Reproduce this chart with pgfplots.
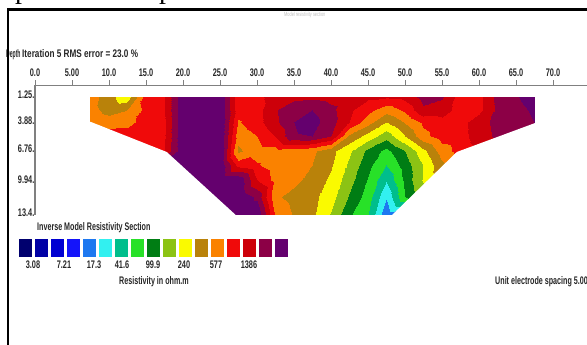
\documentclass[border=0pt]{standalone}
\usepackage{pgfplots}
\pgfplotsset{compat=1.18}
\usepackage{fontspec}
\setmainfont{Liberation Sans}[FakeStretch=0.65]
\newfontfamily\itfont{Liberation Sans}[FakeStretch=0.745]
\newfontfamily\narrowfont{Liberation Sans}[FakeStretch=0.46]
\newfontfamily\numfont{Liberation Sans}[FakeStretch=0.67]
\newfontfamily\serifp{Liberation Serif}
\newcommand\tf{\fontsize{11}{12}\selectfont\bfseries}
\definecolor{L1}{RGB}{0,0,110}
\definecolor{L2}{RGB}{0,0,165}
\definecolor{L3}{RGB}{0,0,210}
\definecolor{L4}{RGB}{20,20,250}
\definecolor{L5}{RGB}{30,120,240}
\definecolor{L6}{RGB}{50,240,240}
\definecolor{L7}{RGB}{0,190,140}
\definecolor{L8}{RGB}{40,225,40}
\definecolor{L9}{RGB}{0,125,20}
\definecolor{L10}{RGB}{140,195,20}
\definecolor{L11}{RGB}{250,250,0}
\definecolor{L12}{RGB}{185,130,10}
\definecolor{L13}{RGB}{250,130,0}
\definecolor{L14}{RGB}{240,10,10}
\definecolor{L15}{RGB}{205,0,10}
\definecolor{L16}{RGB}{140,0,70}
\definecolor{L17}{RGB}{100,0,110}
\begin{document}
\begin{tikzpicture}[x=1pt,y=1pt]
\useasboundingbox (0,0) rectangle (587,345);
\begin{axis}[
  scale only axis, width=562.4pt, height=129.7pt,
  at={(35pt,259.8pt)}, anchor=north west,
  xmin=0, xmax=76, ymin=-13.6, ymax=-0.241,
  axis x line*=top, axis y line*=left,
  axis line style={-, draw=black!50, line width=1.2pt},
  xtick={0,5,...,70},
  xticklabels={0.0,5.00,10.0,15.0,20.0,25.0,30.0,35.0,40.0,45.0,50.0,55.0,60.0,65.0,70.0},
  xtick align=outside, major tick length=5pt,
  xtick style={draw=black!50, line width=0.8pt},
  ytick={-1.25,-3.88,-6.76,-9.94,-13.4},
  yticklabels={1.25.,3.88.,6.76.,9.94.,13.4.},
  ytick style={draw=none},
  yticklabel style={anchor=east, inner sep=0pt, xshift=-0.5pt},
  xticklabel style={inner sep=0pt, yshift=3pt},
  ticklabel style={font=\numfont\tf, text=black!85},
  /pgf/number format/assume math mode=true,
  colormap={res}{rgb255(0cm)=(0,0,110) rgb255(1cm)=(0,0,165) rgb255(2cm)=(0,0,210)
    rgb255(3cm)=(20,20,250) rgb255(4cm)=(30,120,240) rgb255(5cm)=(50,240,240)
    rgb255(6cm)=(0,190,140) rgb255(7cm)=(40,225,40) rgb255(8cm)=(0,125,20)
    rgb255(9cm)=(140,195,20) rgb255(10cm)=(250,250,0) rgb255(11cm)=(185,130,10)
    rgb255(12cm)=(250,130,0) rgb255(13cm)=(240,10,10) rgb255(14cm)=(205,0,10)
    rgb255(15cm)=(140,0,70) rgb255(16cm)=(100,0,110) rgb255(17cm)=(100,0,110)},
  colormap access=piecewise constant,
  point meta min=0.660796, point meta max=8.110672,
]
\addplot[surf, shader=interp, mesh/cols=25, mesh/rows=9, point meta=explicit]
  table[x=x, y expr=-\thisrow{d}, meta expr={ln(\thisrow{r})}] {
x d r
7.5 1.5 484.3
10 1.5 273.9
12.5 1.5 184.7
15 1.5 718.3
17.5 1.5 855.9
20 1.5 3187
22.5 1.5 3187
25 1.5 3187
27.5 1.5 658.0
30 1.5 784.1
32.5 1.5 1113
35 1.5 1215
37.5 1.5 1270
40 1.5 1163
42.5 1.5 1066
45 1.5 976.2
47.5 1.5 934.4
50 1.5 1020
52.5 1.5 1652
55 1.5 1448
57.5 1.5 718.3
60 1.5 784.1
62.5 1.5 1581
65 1.5 2056
67.5 1.5 2795
7.5 2.75 443.6
10 2.75 312.4
12.5 2.75 372.3
15 2.75 658.0
17.5 2.75 855.9
20 2.75 3187
22.5 2.75 3187
25 2.75 3187
27.5 2.75 687.5
30 2.75 750.5
32.5 2.75 1327
35 2.75 1968
37.5 2.75 2149
40 2.75 1581
42.5 2.75 976.2
45 2.75 658.0
47.5 2.75 443.6
50 2.75 629.8
52.5 2.75 1270
55 2.75 1163
57.5 2.75 718.3
60 2.75 784.1
62.5 2.75 1513
65 2.75 1803
67.5 2.75 2345
7.5 4.0 528.6
10 4.0 463.5
12.5 4.0 505.9
15 4.0 687.5
17.5 4.0 819.2
20 4.0 3187
22.5 4.0 3187
25 4.0 3187
27.5 4.0 552.3
30 4.0 750.5
32.5 4.0 1270
35 4.0 2149
37.5 4.0 2560
40 4.0 1652
42.5 4.0 894.3
45 4.0 443.6
47.5 4.0 240.2
50 4.0 389.0
52.5 4.0 629.8
55 4.0 750.5
57.5 4.0 750.5
60 4.0 1163
62.5 4.0 1581
65 4.0 1726
67.5 4.0 2149
7.5 5.5 718.3
10 5.5 718.3
12.5 5.5 687.5
15 5.5 687.5
17.5 5.5 819.2
20 5.5 3187
22.5 5.5 3187
25 5.5 3187
27.5 5.5 443.6
30 5.5 577.0
32.5 5.5 894.3
35 5.5 2056
37.5 5.5 2149
40 5.5 1386
42.5 5.5 341.0
45 5.5 201.6
47.5 5.5 119.1
50 5.5 240.2
52.5 5.5 505.9
55 5.5 718.3
57.5 5.5 750.5
60 5.5 1113
62.5 5.5 1513
65 5.5 1726
67.5 5.5 1884
7.5 7.0 718.3
10 7.0 718.3
12.5 7.0 718.3
15 7.0 718.3
17.5 7.0 894.3
20 7.0 3187
22.5 7.0 3187
25 7.0 3187
27.5 7.0 341.0
30 7.0 484.3
32.5 7.0 484.3
35 7.0 443.6
37.5 7.0 406.4
40 7.0 273.9
42.5 7.0 169.2
45 7.0 87.7
47.5 7.0 56.6
50 7.0 100.0
52.5 7.0 210.6
55 7.0 463.5
57.5 7.0 687.5
60 7.0 894.3
62.5 7.0 1113
65 7.0 1386
67.5 7.0 1726
7.5 8.5 3187
10 8.5 3187
12.5 8.5 3187
15 8.5 3187
17.5 8.5 3187
20 8.5 3187
22.5 8.5 3187
25 8.5 3187
27.5 8.5 750.5
30 8.5 602.8
32.5 8.5 463.5
35 8.5 424.6
37.5 8.5 372.3
40 8.5 251.0
42.5 8.5 141.9
45 8.5 73.6
47.5 8.5 41.6
50 8.5 80.3
52.5 8.5 155.0
55 8.5 341.0
57.5 8.5 718.3
60 8.5 894.3
62.5 8.5 1113
65 8.5 1386
67.5 8.5 1726
7.5 10.0 3187
10 10.0 3187
12.5 10.0 3187
15 10.0 3187
17.5 10.0 3187
20 10.0 3187
22.5 10.0 3187
25 10.0 3187
27.5 10.0 3187
30 10.0 894.3
32.5 10.0 505.9
35 10.0 424.6
37.5 10.0 312.4
40 10.0 220.0
42.5 10.0 119.1
45 10.0 61.8
47.5 10.0 28.1
50 10.0 73.6
52.5 10.0 161.9
55 10.0 299.0
57.5 10.0 463.5
60 10.0 577.0
62.5 10.0 718.3
65 10.0 894.3
67.5 10.0 1113
7.5 11.75 3187
10 11.75 3187
12.5 11.75 3187
15 11.75 3187
17.5 11.75 3187
20 11.75 3187
22.5 11.75 3187
25 11.75 3187
27.5 11.75 3187
30 11.75 1968
32.5 11.75 406.4
35 11.75 312.4
37.5 11.75 273.9
40 11.75 184.7
42.5 11.75 95.7
45 11.75 51.8
47.5 11.75 18.1
50 11.75 64.5
52.5 11.75 124.5
55 11.75 240.2
57.5 11.75 372.3
60 11.75 577.0
62.5 11.75 718.3
65 11.75 894.3
67.5 11.75 1113
7.5 13.6 3187
10 13.6 3187
12.5 13.6 3187
15 13.6 3187
17.5 13.6 3187
20 13.6 3187
22.5 13.6 3187
25 13.6 3187
27.5 13.6 3187
30 13.6 3187
32.5 13.6 552.3
35 13.6 356.3
37.5 13.6 262.2
40 13.6 148.3
42.5 13.6 70.4
45 13.6 41.6
47.5 13.6 12.2
50 13.6 11.2
52.5 13.6 11.2
55 13.6 26.9
57.5 13.6 64.5
60 13.6 155.0
62.5 13.6 372.3
65 13.6 577.0
67.5 13.6 718.3
};
\addplot[fill=white, draw=none] coordinates {(7.57,-4.03) (17.8,-7.12) (27.4,-13.8) (7.0,-13.8) (7.0,-4.03)} --cycle;
\addplot[fill=white, draw=none] coordinates {(48.0,-13.8) (57.0,-7.12) (67.6,-4.13) (68.0,-4.13) (68.0,-13.8)} --cycle;
\end{axis}
% colour legend
\begin{axis}[scale only axis, width=300pt, height=18pt, at={(0pt,88pt)}, anchor=south west,
  xmin=0, xmax=300, ymin=0, ymax=18, hide axis, clip=false]
\addplot[ybar, bar width=12.4, bar shift=0pt, draw=none, fill=L1] coordinates {(25.5,18)};
\addplot[ybar, bar width=12.4, bar shift=0pt, draw=none, fill=L2] coordinates {(41.5,18)};
\addplot[ybar, bar width=12.4, bar shift=0pt, draw=none, fill=L3] coordinates {(57.5,18)};
\addplot[ybar, bar width=12.4, bar shift=0pt, draw=none, fill=L4] coordinates {(73.5,18)};
\addplot[ybar, bar width=12.4, bar shift=0pt, draw=none, fill=L5] coordinates {(89.5,18)};
\addplot[ybar, bar width=12.4, bar shift=0pt, draw=none, fill=L6] coordinates {(105.5,18)};
\addplot[ybar, bar width=12.4, bar shift=0pt, draw=none, fill=L7] coordinates {(121.5,18)};
\addplot[ybar, bar width=12.4, bar shift=0pt, draw=none, fill=L8] coordinates {(137.5,18)};
\addplot[ybar, bar width=12.4, bar shift=0pt, draw=none, fill=L9] coordinates {(153.5,18)};
\addplot[ybar, bar width=12.4, bar shift=0pt, draw=none, fill=L10] coordinates {(169.5,18)};
\addplot[ybar, bar width=12.4, bar shift=0pt, draw=none, fill=L11] coordinates {(185.5,18)};
\addplot[ybar, bar width=12.4, bar shift=0pt, draw=none, fill=L12] coordinates {(201.5,18)};
\addplot[ybar, bar width=12.4, bar shift=0pt, draw=none, fill=L13] coordinates {(217.5,18)};
\addplot[ybar, bar width=12.4, bar shift=0pt, draw=none, fill=L14] coordinates {(233.5,18)};
\addplot[ybar, bar width=12.4, bar shift=0pt, draw=none, fill=L15] coordinates {(249.5,18)};
\addplot[ybar, bar width=12.4, bar shift=0pt, draw=none, fill=L16] coordinates {(265.5,18)};
\addplot[ybar, bar width=12.4, bar shift=0pt, draw=none, fill=L17] coordinates {(281.5,18)};
\end{axis}
% texts
\begin{scope}[every node/.style={inner sep=0pt, text=black!85}]
\node[anchor=mid west, font=\narrowfont\tf] at (6,290.5) {Depth};
\node[anchor=mid west, font=\itfont\tf] at (22,290.5) {Iteration 5 RMS error = 23.0 \%};
\node[anchor=mid west, font=\tf] at (37,117) {Inverse Model Resistivity Section};
\foreach \xx/\lab in {33/3.08,64/7.21,94/17.3,122/41.6,153/99.9,184/240,216/577,249/1386}
  \node[anchor=mid, font=\numfont\tf] at (\xx,79) {\lab};
\node[anchor=mid, font=\tf] at (154,63) {Resistivity in ohm.m};
\node[anchor=mid east, font=\tf] at (588,63) {Unit electrode spacing 5.00};
\node[anchor=mid west, font=\fontsize{6}{7}\selectfont, text=black!25] at (284,331) {Model resistivity section};
\node[anchor=base west, font=\serifp\fontsize{28}{28}\selectfont, text=black] at (15,346) {p};
\node[anchor=base west, font=\serifp\fontsize{28}{28}\selectfont, text=black] at (159,346) {p};
\end{scope}
\draw[line width=2.6pt, black] (8,-10) -- (8,335.3) -- (600,335.3);
\end{tikzpicture}
\end{document}
